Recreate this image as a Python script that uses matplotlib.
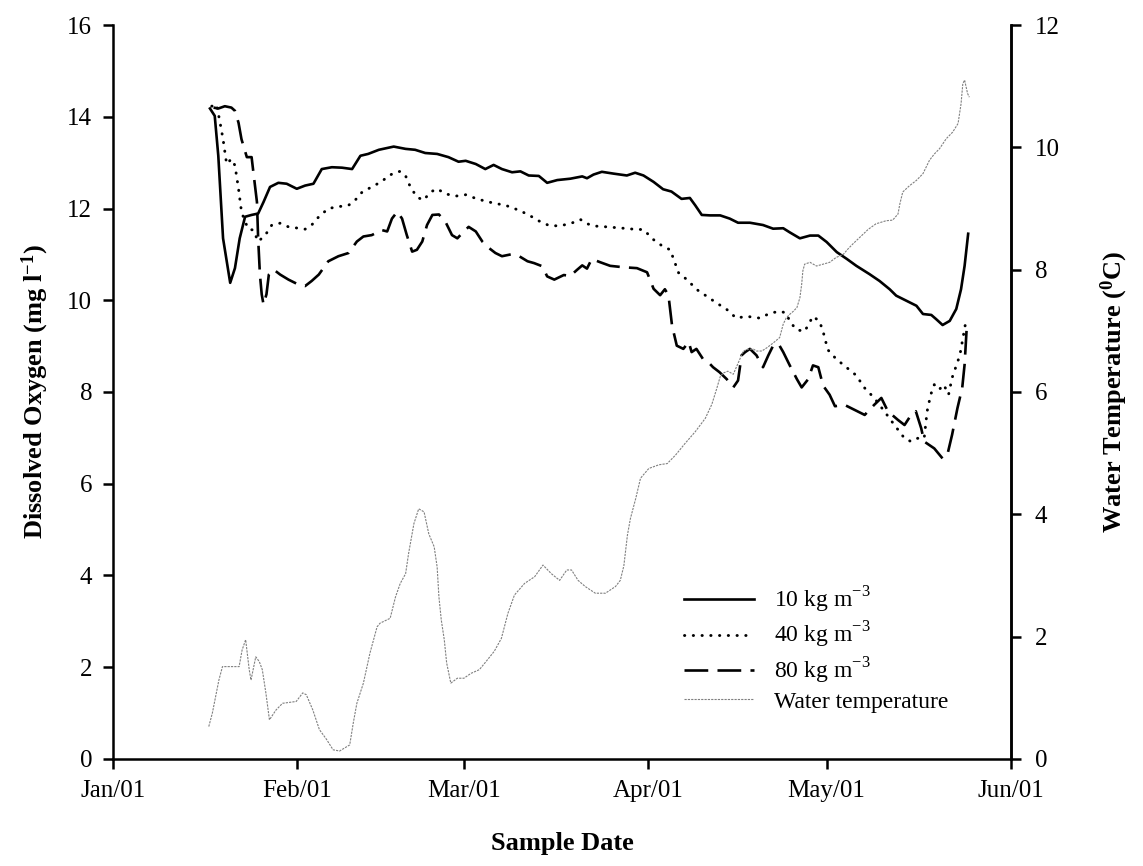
import numpy as np
import matplotlib
matplotlib.use("Agg")
import matplotlib.pyplot as plt
import matplotlib.dates as mdates

plt.rcParams["font.family"] = ["Liberation Serif", "DejaVu Serif"]
plt.rcParams["mathtext.fontset"] = "custom"
plt.rcParams["mathtext.rm"] = "Liberation Serif"
plt.rcParams["mathtext.bf"] = "Liberation Serif:bold"

START = np.datetime64("2001-01-01")

# dissolved oxygen, 10 kg m-3 (days after Jan 1, mg/l)
do10_days = [16.3, 17.1, 17.7, 18.5, 19.7, 20.5, 21.3, 22.2, 23.3, 24.4, 25.3, 26.4,
             27.8, 29.2, 30.9, 32.3, 33.7, 35.1, 36.8, 38.5, 40.2, 41.6, 42.9, 44.7,
             47.2, 49.2, 50.8, 52.5, 54.5, 56.4, 58.1, 59.3, 61.0, 62.6, 64.0, 65.4,
             67.1, 68.5, 69.9, 71.6, 73.0, 74.7, 76.9, 78.9, 79.7, 80.8, 82.2, 84.2,
             86.4, 87.8, 89.2, 90.9, 92.5, 93.9, 95.6, 97.0, 97.9, 99.0, 100.4, 102.1,
             103.7, 105.1, 107.1, 109.3, 111.0, 112.7, 113.8, 115.5, 117.2, 118.6, 120.0,
             121.7, 123.4, 125.0, 127.2, 128.9, 130.6, 131.7, 133.4, 135.1, 136.2, 137.6,
             138.4, 139.5, 140.7, 141.8, 142.6, 143.2, 143.8]
do10_vals = [14.18, 14.02, 13.15, 11.35, 10.38, 10.70, 11.35, 11.82, 11.86, 11.89, 12.14, 12.47,
             12.56, 12.54, 12.43, 12.50, 12.54, 12.86, 12.90, 12.89, 12.86, 13.15, 13.19, 13.28,
             13.35, 13.30, 13.28, 13.21, 13.19, 13.12, 13.02, 13.04, 12.97, 12.86, 12.95, 12.86,
             12.79, 12.81, 12.72, 12.71, 12.56, 12.62, 12.65, 12.70, 12.66, 12.74, 12.80, 12.76,
             12.72, 12.78, 12.72, 12.58, 12.42, 12.37, 12.21, 12.23, 12.07, 11.86, 11.85, 11.85,
             11.78, 11.69, 11.69, 11.64, 11.56, 11.57, 11.48, 11.35, 11.41, 11.41, 11.27,
             11.05, 10.90, 10.75, 10.57, 10.42, 10.24, 10.10, 9.99, 9.88, 9.70, 9.68,
             9.59, 9.46, 9.55, 9.81, 10.24, 10.75, 11.45]

# dissolved oxygen, 40 kg m-3
do40_days = [16.6, 17.4, 18.0, 18.5, 19.1, 19.9, 20.5, 21.1, 21.6, 22.2, 22.8, 23.6,
             24.4, 25.6, 26.7, 28.1, 29.5, 31.2, 32.3, 33.4, 34.6, 36.2, 37.9, 39.6,
             40.7, 41.9, 43.5, 45.2, 46.3, 47.5, 48.3, 49.2, 50.0, 51.1, 52.2, 53.4,
             54.5, 55.9, 57.6, 59.3, 61.0, 62.6, 64.3, 66.0, 68.3, 69.9, 71.6, 73.3,
             75.0, 76.9, 78.6, 79.7, 80.8, 83.0, 85.8, 87.5, 89.2, 90.9, 92.5, 93.7,
             94.2, 95.1, 96.5, 98.2, 99.8, 101.5, 103.2, 104.8, 106.5, 108.8, 110.5, 112.2,
             113.2, 113.8, 114.9, 116.3, 117.7, 118.8, 119.4, 120.2, 121.6, 123.3, 125.0,
             126.3, 128.0, 129.7, 131.4, 133.1, 134.2, 135.3, 136.4, 136.9, 137.5, 138.1,
             138.9, 139.7, 140.5, 141.1, 142.4, 143.5]
do40_vals = [14.23, 14.27, 13.87, 13.51, 12.97, 13.08, 12.94, 12.43, 11.93, 11.71, 11.55, 11.53,
             11.28, 11.42, 11.64, 11.68, 11.60, 11.57, 11.55, 11.64, 11.82, 12.00, 12.04, 12.07,
             12.18, 12.36, 12.47, 12.59, 12.71, 12.79, 12.81, 12.71, 12.47, 12.25, 12.18, 12.36,
             12.43, 12.32, 12.27, 12.30, 12.22, 12.16, 12.11, 12.07, 11.96, 11.86, 11.73, 11.63,
             11.62, 11.67, 11.76, 11.67, 11.62, 11.60, 11.57, 11.55, 11.54, 11.32, 11.17, 11.10,
             10.92, 10.60, 10.45, 10.23, 10.09, 9.94, 9.80, 9.61, 9.65, 9.61, 9.72, 9.76,
             9.72, 9.54, 9.36, 9.32, 9.65, 9.54, 9.32, 8.92, 8.72, 8.54, 8.36,
             8.10, 7.87, 7.58, 7.28, 6.99, 6.92, 6.99, 6.99, 7.58, 7.94, 8.16,
             8.05, 8.16, 7.94, 8.31, 8.80, 9.60]

# dissolved oxygen, 80 kg m-3
do80_days = [16.9, 17.7, 18.8, 19.9, 20.5, 21.1, 21.6, 22.5, 23.3, 23.6, 24.2, 24.4,
             24.7, 25.0, 25.3, 25.8, 26.2, 27.0, 28.1, 29.5, 31.2, 32.3, 33.4, 34.6,
             36.2, 37.9, 39.6, 41.0, 42.1, 43.5, 45.2, 46.1, 46.9, 47.8, 48.6, 49.4,
             50.3, 51.1, 52.0, 52.8, 53.7, 54.8, 55.9, 57.0, 57.9, 58.7, 59.8, 61.0,
             62.1, 63.2, 64.3, 65.4, 66.9, 68.3, 69.7, 70.8, 72.2, 73.0, 74.2, 75.8,
             76.9, 78.0, 78.9, 79.7, 80.5, 81.9, 83.6, 85.8, 88.1, 89.8, 90.9, 92.0,
             92.8, 93.4, 94.0, 94.8, 95.9, 96.8, 97.3, 98.1, 99.2, 100.1, 100.9, 102.0,
             103.2, 104.3, 105.1, 105.7, 106.3, 107.1, 108.2, 109.3, 110.2, 111.0, 111.9,
             112.7, 113.8, 115.0, 115.8, 116.9, 117.7, 118.6, 119.4, 120.5, 121.4, 123.0,
             124.7, 126.4, 128.0, 129.2, 130.3, 132.0, 133.1, 134.2, 135.0, 135.9, 136.4,
             138.1, 139.5, 140.3, 141.1, 142.0, 142.8, 143.2, 143.6]
do80_vals = [14.20, 14.18, 14.23, 14.20, 14.13, 13.87, 13.51, 13.12, 13.12, 12.79, 12.14, 11.35,
             10.56, 10.13, 9.91, 10.13, 10.56, 10.67, 10.56, 10.45, 10.34, 10.31, 10.42, 10.56,
             10.85, 10.96, 11.03, 11.28, 11.39, 11.42, 11.53, 11.50, 11.78, 11.93, 11.78, 11.42,
             11.06, 11.10, 11.28, 11.64, 11.86, 11.87, 11.71, 11.42, 11.35, 11.46, 11.60, 11.50,
             11.28, 11.14, 11.03, 10.96, 11.00, 10.96, 10.85, 10.81, 10.74, 10.52, 10.45, 10.55,
             10.53, 10.66, 10.76, 10.69, 10.90, 10.83, 10.75, 10.72, 10.70, 10.61, 10.25, 10.11,
             10.24, 10.11, 9.45, 9.01, 8.94, 9.09, 8.87, 8.94, 8.72, 8.65, 8.54, 8.43,
             8.28, 8.10, 8.25, 8.80, 8.87, 8.94, 8.80, 8.54, 8.80, 9.01, 9.05,
             8.87, 8.58, 8.28, 8.10, 8.28, 8.58, 8.54, 8.14, 7.94, 7.69, 7.72,
             7.61, 7.50, 7.72, 7.87, 7.58, 7.39, 7.28, 7.50, 7.58, 7.21, 6.92,
             6.77, 6.55, 6.63, 7.07, 7.65, 8.09, 8.60, 9.50]

# water temperature (degrees C)
temp_days = [16.1, 16.7, 17.8, 18.4, 21.2, 21.7, 22.3, 22.9, 23.2, 24.0, 24.6, 25.1,
             25.7, 26.3, 27.4, 28.5, 30.8, 31.9, 32.5, 33.6, 34.7, 35.9, 37.0, 38.1,
             39.8, 40.4, 41.0, 42.1, 43.2, 44.4, 44.9, 46.6, 47.5, 48.3, 49.2, 49.7,
             50.6, 51.4, 52.3, 53.1, 54.0, 54.5, 54.8, 55.2, 55.7, 56.1, 56.8, 57.9,
             59.0, 60.2, 61.6, 62.7, 64.1, 65.3, 66.4, 67.5, 69.2, 70.9, 72.3, 73.7,
             75.1, 76.3, 77.1, 78.2, 79.4, 81.1, 82.8, 84.5, 85.3, 85.9, 86.5, 87.0,
             87.9, 88.7, 90.1, 91.8, 93.2, 94.6, 96.2, 97.9, 99.6, 100.7, 101.5, 102.1,
             102.6, 103.4, 104.3, 106.0, 106.8, 107.7, 108.2, 109.1, 109.9, 111.0, 112.1,
             112.7, 113.2, 113.8, 114.4, 115.0, 115.5, 115.8, 116.0, 116.3, 117.2, 118.3,
             119.4, 120.5, 121.6, 122.8, 123.6, 124.4, 125.6, 127.0, 128.3, 130.0, 131.1,
             132.0, 132.3, 132.8, 133.9, 135.1, 136.2, 137.3, 138.1, 139.0, 140.1, 141.2,
             142.1, 142.6, 142.9, 143.2, 143.7, 144.0]
temp_vals = [0.53, 0.75, 1.29, 1.51, 1.51, 1.78, 1.95, 1.46, 1.29, 1.67, 1.59, 1.46,
             1.08, 0.64, 0.80, 0.91, 0.94, 1.08, 1.05, 0.80, 0.48, 0.32, 0.15, 0.13,
             0.23, 0.59, 0.91, 1.24, 1.73, 2.16, 2.22, 2.30, 2.65, 2.87, 3.03, 3.36,
             3.85, 4.09, 4.04, 3.68, 3.47, 3.14, 2.65, 2.27, 1.95, 1.57, 1.24, 1.32,
             1.32, 1.40, 1.46, 1.59, 1.76, 1.97, 2.38, 2.68, 2.87, 2.98, 3.17, 3.03,
             2.92, 3.09, 3.09, 2.92, 2.82, 2.71, 2.71, 2.82, 2.92, 3.16, 3.66, 3.93,
             4.26, 4.59, 4.75, 4.81, 4.83, 4.97, 5.16, 5.35, 5.57, 5.80, 6.05, 6.25,
             6.31, 6.34, 6.29, 6.67, 6.70, 6.70, 6.67, 6.67, 6.72, 6.80, 6.89,
             7.11, 7.21, 7.27, 7.32, 7.38, 7.54, 7.76, 7.98, 8.09, 8.12, 8.06,
             8.09, 8.12, 8.20, 8.25, 8.34, 8.42, 8.53, 8.66, 8.75, 8.80, 8.81,
             8.91, 9.07, 9.27, 9.37, 9.46, 9.57, 9.79, 9.89, 9.98, 10.14, 10.25,
             10.39, 10.71, 11.04, 11.10, 10.88, 10.82]

series_labels = ["10 kg m$^{-3}$", "40 kg m$^{-3}$", "80 kg m$^{-3}$", "Water temperature"]


def to_dates(days):
    # fractional days after Jan 1 -> datetime64
    minutes = np.round(np.asarray(days) * 24 * 60).astype("timedelta64[m]")
    return START + minutes


fig = plt.figure(figsize=(11.43, 8.66), dpi=100)
ax = fig.add_axes([0.0989, 0.1236, 0.7856, 0.8475])
ax2 = ax.twinx()

lw = 1.9
h1, = ax.plot(to_dates(do10_days), do10_vals, color="black", lw=lw,
              solid_joinstyle="round", label=series_labels[0])
h2, = ax.plot(to_dates(do40_days), do40_vals, color="black", lw=2.1,
              linestyle=(0, (0.1, 2.9)), dash_capstyle="round", label=series_labels[1])
h3, = ax.plot(to_dates(do80_days), do80_vals, color="black", lw=lw,
              linestyle=(0, (9, 3.5)), label=series_labels[2])
h4, = ax2.plot(to_dates(temp_days), temp_vals, color="0.5", lw=0.8,
               linestyle=(0, (2, 1)), label=series_labels[3])

ax.set_xlim(np.datetime64("2001-01-01"), np.datetime64("2001-06-01"))
ax.set_ylim(0, 16)
ax2.set_ylim(0, 12)
ax.set_yticks(np.arange(0, 17, 2))
ax2.set_yticks(np.arange(0, 13, 2))
ax.xaxis.set_major_locator(mdates.MonthLocator())
ax.xaxis.set_major_formatter(mdates.DateFormatter("%b/%y"))

for a in (ax, ax2):
    a.spines["top"].set_visible(False)
    for s in a.spines.values():
        s.set_linewidth(1.8)
    a.tick_params(width=1.8, length=7, labelsize=18, direction="out", pad=8)
ax2.tick_params(pad=10)
ax2.spines["left"].set_visible(False)
ax2.spines["bottom"].set_visible(False)

ax.set_xlabel("Sample Date", fontsize=19, fontweight="bold", labelpad=22)
ax.set_ylabel("Dissolved Oxygen (mg l$\\mathbf{^{-1}}$)", fontsize=19,
              fontweight="bold", labelpad=12)
ax2.set_ylabel("Water Temperature ($\\mathbf{^{0}}$C)", fontsize=19,
               fontweight="bold", labelpad=28)

leg = ax2.legend(handles=[h1, h2, h3, h4], loc="upper left",
                 bbox_to_anchor=(0.598, 0.325), bbox_transform=fig.transFigure,
                 frameon=False, fontsize=17, handlelength=3.0, handletextpad=0.85,
                 labelspacing=0.22, borderpad=0, borderaxespad=0)

fig.savefig("out.png", dpi=100)
